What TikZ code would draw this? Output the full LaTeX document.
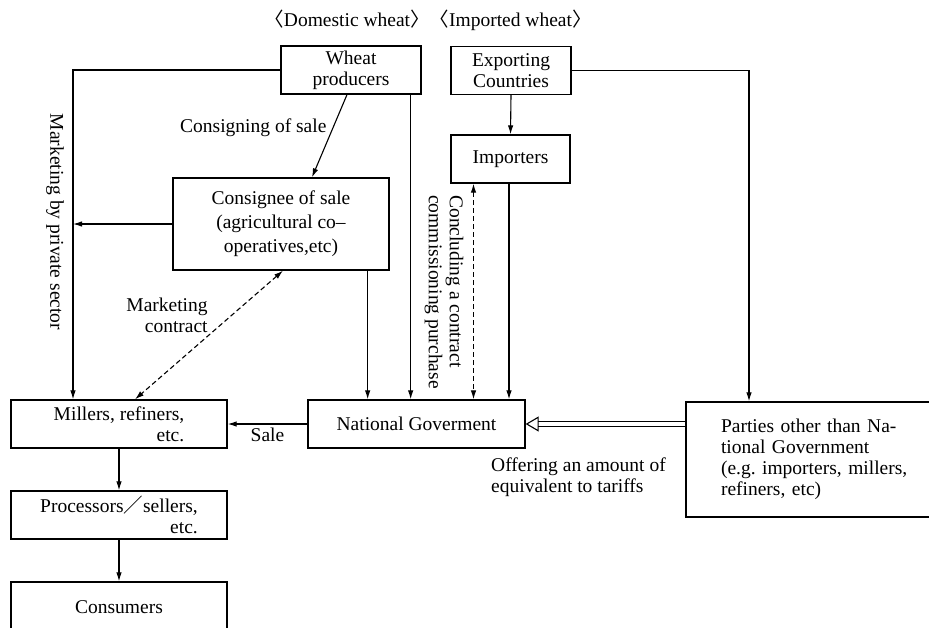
\documentclass[tikz,border=0pt]{standalone}
\usepackage{fontspec}
\setmainfont{Liberation Serif}
\newfontfamily\cjk{Noto Sans CJK JP}
\usetikzlibrary{arrows.meta,positioning}
\tikzset{flowbox/.style={draw,line width=1.3pt,align=center,inner sep=3pt,font=\fontsize{19.5}{21}\selectfont}, flowarr/.style={line width=1.1pt,-{Latex[length=9pt,width=5.5pt]}}, dasharr/.style={line width=1.1pt,dash pattern=on 5pt off 3pt,{Latex[length=9pt,width=5.5pt]}-{Latex[length=9pt,width=5.5pt]}}, dblarr/.style={double,double distance=4pt,line width=1.1pt,-{Triangle[open,length=13pt,width=15pt,line width=1.1pt]}}, note/.style={font=\fontsize{19.5}{21}\selectfont,align=center,inner sep=1pt}}
\begin{document}
\begin{tikzpicture}[x=1pt,y=-1pt]
\useasboundingbox (0,0) rectangle (929,627);
\clip (0,0) rectangle (929,627);
\node[note] (head) at (428,20) {{\cjk 〈}Domestic wheat{\cjk 〉}{\cjk 〈}Imported wheat{\cjk 〉}};
\node[flowbox,minimum width=140pt,minimum height=48pt] (wheat) at (351,70) {Wheat\\producers};
\node[flowbox,minimum width=120pt,minimum height=48pt] (export) at (511,70.5) {Exporting\\Countries};
\node[flowbox,minimum width=119pt,minimum height=48pt] (import) at (510.5,159) {Importers};
\node[flowbox,minimum width=216pt,minimum height=92pt] (consign) at (281,224) {Consignee of sale\\[3pt](agricultural co–\\[3pt]operatives,etc)};
\node[flowbox,minimum width=216pt,minimum height=48pt,align=right] (millers) at (119,424) {Millers, refiners,\\etc.};
\node[flowbox,minimum width=216pt,minimum height=48pt,align=right] (proc) at (119,515) {Processors{\cjk ／}sellers,\\etc.};
\node[flowbox,minimum width=216pt,minimum height=50pt] (consumer) at (119,607) {Consumers};
\node[flowbox,minimum width=217pt,minimum height=48pt] (natgov) at (416.5,424) {National Goverment};
\node[flowbox,minimum width=260pt,minimum height=115pt,text width=190pt,align=left] (parties) at (816,459.5) {Parties other than Na-\\tional Government\\(e.g.\ importers, millers,\\refiners, etc)};
\coordinate (lcol) at (73,71);
\coordinate (rcol) at (749,73);
\node[note,rotate=-90] (mktprv) at (55,222) {Marketing by private sector};
\node[note,rotate=-90,align=left] (conclbl) at (444,292) {Concluding a contract\\commissioning purchase};
\draw[flowarr] (wheat.west) -| (millers.north -| lcol);
\draw[flowarr] (consign.west) -- (consign.west -| lcol);
\draw[flowarr] ([xshift=-4pt]wheat.south) -- node[note,left,pos=.4,xshift=-5pt] {Consigning of sale} ([xshift=31pt]consign.north);
\draw[flowarr] ([xshift=-11pt]wheat.south east) -- ([xshift=-11pt]wheat.south east |- natgov.north);
\draw[flowarr] ([xshift=-22pt]consign.south east) -- ([xshift=-22pt]consign.south east |- natgov.north);
\draw[dasharr] ([xshift=2pt]consign.south) -- node[note,align=right,left,pos=.35,xshift=-22pt] {Marketing\\contract} ([xshift=16pt]millers.north);
\draw[flowarr] (export.south) -- (import.north);
\draw[flowarr] ([xshift=-1.5pt]import.south) -- ([xshift=-1.5pt]import.south |- natgov.north);
\draw[dasharr] ([xshift=-37pt]import.south) -- ([xshift=-37pt]import.south |- natgov.north);
\draw[flowarr] (export.east) -| (parties.north -| rcol);
\draw[flowarr] (natgov.west) -- node[note,below=2pt] {Sale} (millers.east);
\draw[dblarr] (parties.west |- natgov.east) -- (natgov.east);
\node[note,anchor=west,align=left] (offer) at (490,477) {Offering an amount of\\equivalent to tariffs};
\draw[flowarr] (millers.south) -- (proc.north);
\draw[flowarr] (proc.south) -- (consumer.north);
\end{tikzpicture}
\end{document}
